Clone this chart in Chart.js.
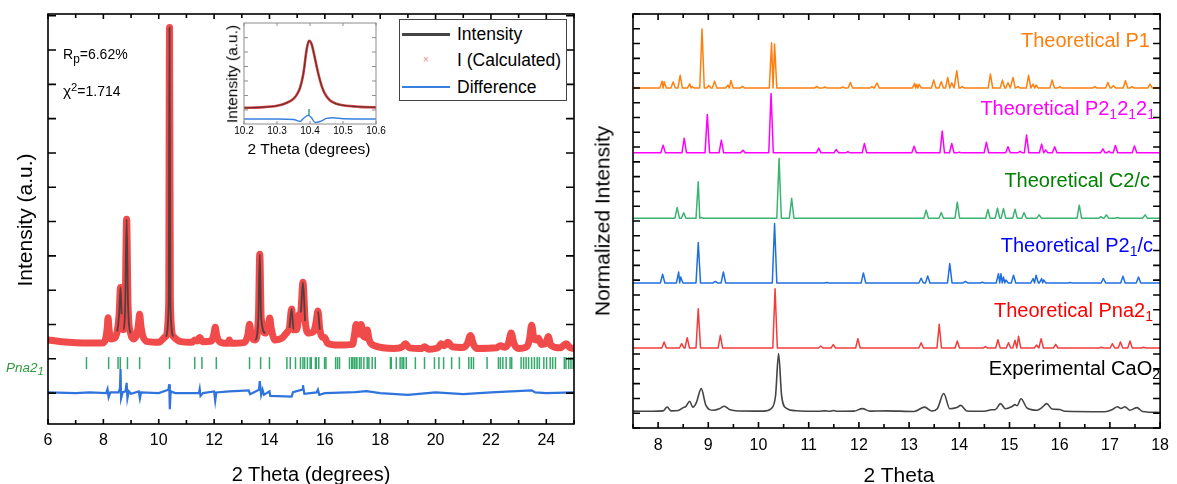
<!DOCTYPE html>
<html>
<head>
<meta charset="utf-8">
<script src="https://cdn.jsdelivr.net/npm/chart.js@4.4.1/dist/chart.umd.min.js"></script>
<style>
body{margin:0;background:#fff;}
#wrap{position:relative;width:1177px;height:484px;overflow:hidden;}
canvas{position:absolute;}
.t{position:absolute;white-space:nowrap;line-height:1;font-family:Arial,"Liberation Sans",sans-serif;color:#000;}
.sb{font-size:0.7em;position:relative;top:0.3em;}
.sb2{font-size:0.85em;position:relative;top:0.3em;}
.sp{font-size:0.8em;position:relative;top:-0.45em;}
.lg{position:absolute;}
</style>
</head>
<body>
<div id="wrap">
<canvas id="left" width="590" height="484" style="left:0;top:0"></canvas>
<canvas id="right" width="587" height="484" style="left:590px;top:0"></canvas>
<canvas id="inset" width="190" height="150" style="left:200px;top:10px"></canvas>

<div class="t" style="left:24px;top:220px;font-size:21px;transform:translate(-50%,-50%) rotate(-90deg)">Intensity (a.u.)</div>
<div class="t" style="left:311px;top:464px;font-size:20px;transform:translateX(-50%)">2 Theta (degrees)</div>
<div class="t" style="left:63px;top:47px;font-size:14px">R<span class="sb2">p</span>=6.62%</div>
<div class="t" style="left:63px;top:83px;font-size:14px"><span style="font-size:1.1em">χ</span><span class="sp">2</span>=1.714</div>
<div class="t" style="left:6px;top:361px;font-size:13.5px;font-style:italic;color:#2e9a3e">Pna2<span class="sb2">1</span></div>

<div class="t" style="left:232px;top:74px;font-size:15.5px;transform:translate(-50%,-50%) rotate(-90deg)">Intensity (a.u.)</div>
<div class="t" style="left:309px;top:141px;font-size:15.5px;transform:translateX(-50%)">2 Theta (degrees)</div>

<div class="lg" style="left:399px;top:19px;width:166px;height:80px;border:1.2px solid #444;background:#fff"></div>
<div class="lg" style="left:402px;top:33px;width:48px;height:3px;background:#444"></div>
<div class="t" style="left:423px;top:55px;font-size:10px;color:#f08a8a">×</div>
<div class="lg" style="left:402px;top:86px;width:48px;height:2px;background:#3a80e0"></div>
<div class="t" style="left:457px;top:26px;font-size:17.5px">Intensity</div>
<div class="t" style="left:457px;top:52px;font-size:17.5px">I (Calculated)</div>
<div class="t" style="left:457px;top:79px;font-size:17.5px">Difference</div>

<div class="t" style="left:602px;top:221px;font-size:21px;transform:translate(-50%,-50%) rotate(-90deg)">Normalized Intensity</div>
<div class="t" style="left:899px;top:464px;font-size:21px;transform:translateX(-50%)">2 Theta</div>
<div class="t" style="right:27px;top:30px;font-size:20px;color:#ff7f0e">Theoretical P1</div>
<div class="t" style="right:22px;top:98px;font-size:20px;color:#ff00ff">Theoretical P2<span class="sb">1</span>2<span class="sb">1</span>2<span class="sb">1</span></div>
<div class="t" style="right:27px;top:170px;font-size:20px;color:#008000">Theoretical C2/c</div>
<div class="t" style="right:24px;top:235px;font-size:20px;color:#0000ff">Theoretical P2<span class="sb">1</span>/c</div>
<div class="t" style="right:24px;top:300px;font-size:20px;color:#ff0000">Theoretical Pna2<span class="sb">1</span></div>
<div class="t" style="right:17px;top:358px;font-size:20px;color:#000">Experimental CaO<span class="sb">2</span></div>
</div>

<script>
// ---- left panel: refinement (x = 2 theta, y = intensity in tick units)
const calcPts = [[6.0,1.55],[6.5,1.5],[7.0,1.47],[7.5,1.46],[7.95,1.46],
[8.08,1.58],[8.14,1.9],[8.17,2.2],[8.2,1.9],[8.27,1.58],
[8.4,1.6],[8.5,1.8],[8.57,2.3],[8.62,3.08],[8.66,2.3],[8.72,1.85],
[8.79,2.6],[8.84,5.07],[8.89,2.6],[8.98,1.75],
[9.1,1.58],[9.22,1.75],[9.28,2.1],[9.31,2.3],[9.35,2.0],[9.42,1.68],[9.6,1.5],
[10.0,1.48],[10.25,1.65],[10.36,2.6],[10.39,10.66],[10.42,2.6],[10.53,1.65],[10.8,1.5],
[11.2,1.48],[11.3,1.55],[11.38,1.52],[11.48,1.62],[11.58,1.5],
[11.9,1.52],[12.0,1.75],[12.04,1.92],[12.09,1.7],[12.2,1.5],
[12.5,1.45],[12.55,1.55],[12.6,1.45],
[13.1,1.48],[13.22,1.7],[13.28,2.01],[13.34,1.7],[13.48,1.55],
[13.6,2.2],[13.65,4.05],[13.7,2.2],[13.85,1.75],
[13.96,2.0],[14.01,2.19],[14.06,1.9],[14.2,1.55],
[14.45,1.6],[14.58,1.72],[14.64,1.78],[14.72,1.9],[14.8,2.45],[14.87,1.85],
[14.98,1.85],[15.08,2.3],[15.13,2.35],[15.21,3.23],[15.29,2.1],[15.42,1.75],
[15.6,1.8],[15.68,2.05],[15.75,2.39],[15.82,1.85],[15.92,1.62],[15.99,1.62],[16.1,1.45],
[16.5,1.4],[17.0,1.42],[17.07,1.7],[17.13,2.0],[17.22,1.72],[17.31,2.0],[17.4,1.65],[17.47,1.62],[17.53,1.84],[17.6,1.55],[17.8,1.38],
[18.5,1.3],[18.8,1.35],[18.91,1.44],[19.05,1.32],[19.5,1.3],[19.6,1.35],[19.75,1.28],
[20.1,1.33],[20.2,1.44],[20.32,1.38],[20.44,1.48],[20.6,1.35],[21.0,1.33],
[21.15,1.45],[21.26,1.68],[21.37,1.42],[21.5,1.3],[22.2,1.32],[22.34,1.38],[22.5,1.34],
[22.63,1.45],[22.73,1.75],[22.83,1.45],[23.0,1.3],[23.3,1.36],[23.4,1.6],[23.47,1.98],[23.55,1.6],[23.65,1.55],[23.72,1.6],[23.82,1.42],
[23.98,1.45],[24.07,1.65],[24.16,1.4],[24.5,1.32],[24.72,1.44],[24.85,1.33],[25.0,1.3]];

const diffPts = [[6.0,0.02],[7.0,0.0],[7.5,0.02],[8.1,0.0],[8.15,0.12],[8.19,-0.12],[8.25,0.02],[8.55,0.02],
[8.6,0.15],[8.62,0.7],[8.64,-0.15],[8.7,0.03],[8.8,0.05],[8.84,0.3],[8.87,-0.15],[8.92,0.05],[9.0,-0.02],
[9.28,0.05],[9.32,-0.15],[9.36,0.02],[10.0,0.0],[10.35,0.1],[10.38,0.26],[10.40,-0.47],[10.43,0.05],[10.6,0.0],
[11.45,0.0],[11.48,0.12],[11.51,-0.08],[11.6,0],[12.0,0.05],[12.04,-0.22],[12.08,0.02],[12.55,0.05],
[13.25,0.08],[13.3,-0.03],[13.62,0.1],[13.65,0.35],[13.7,-0.05],[13.75,0.1],[13.8,-0.05],[14.0,0.05],[14.03,-0.08],
[14.8,-0.1],[14.85,0.03],[15.18,0.1],[15.21,0.23],[15.26,-0.02],[15.7,0.02],[15.75,0.1],[15.8,-0.05],[16.0,0],
[17.1,0.03],[17.5,0.06],[18.0,0],[19.0,-0.05],[20.0,0.02],[21.0,-0.03],[22.0,0.02],[23.47,0.08],[23.6,0.02],[24.0,0.0],[25.0,0.02]];

// Pna2_1 reflection positions
const reflections = [7.39,8.19,8.53,8.61,8.87,9.31,10.39,11.30,11.56,12.08,13.28,13.68,14.00,14.63,14.75,14.94,
15.12,15.21,15.27,15.37,15.47,15.51,15.66,15.69,15.78,15.99,16.04,16.39,16.46,16.53,16.89,16.97,17.01,17.07,17.13,17.16,
17.25,17.31,17.41,17.53,17.59,17.71,17.82,18.37,18.40,18.58,18.72,18.79,18.85,18.94,19.27,19.60,19.96,20.12,20.29,
20.58,20.86,21.20,21.29,21.37,21.86,22.27,22.34,22.43,22.55,22.69,22.75,23.09,23.18,23.27,23.36,23.47,23.57,23.67,
23.75,23.91,24.01,24.14,24.23,24.33,24.65,24.71,24.81,24.89,24.97];
const reflY = 0.875;

const leftXLabels = [6,8,10,12,14,16,18,20,22,24];
const leftXMinor = [7,9,11,13,15,17,19,21,23,25];
const leftYTicks = [0,1,2,3,4,5,6,7,8,9,10,11];

// ---- inset (zoom on 10.2-10.6)
const insetPts = [[10.2,1.6],[10.25,1.65],[10.3,1.8],[10.33,2.1],[10.35,2.5],[10.36,2.9],[10.37,3.6],[10.38,5.0],
[10.39,7.4],[10.397,8.25],[10.405,7.9],[10.415,6.5],[10.425,5.0],[10.435,3.8],[10.445,3.0],[10.46,2.35],[10.48,2.0],
[10.5,1.85],[10.55,1.7],[10.6,1.65]];
const insetDiff = [[10.2,0.5],[10.3,0.5],[10.35,0.45],[10.37,0.25],[10.38,0.55],[10.395,0.85],[10.405,0.6],[10.415,0.15],
[10.43,0.25],[10.45,0.55],[10.47,0.62],[10.5,0.52],[10.6,0.5]];
const insetRefl = [10.397];
const insetXLabels = [10.2,10.3,10.4,10.5,10.6];
const insetYTicks = [1.39,2.82,4.26,5.69,7.13,8.55];

// ---- right panel: simulated patterns, peak positions / heights, stacked
const p1Pos = [8.08,8.12,8.30,8.44,8.63,8.68,8.875,9.01,9.125,9.39,9.45,9.68,10.26,10.32,11.16,11.32,11.68,11.83,12.26,12.36,
13.11,13.15,13.2,13.49,13.64,13.77,13.85,13.95,14.06,14.62,14.86,14.97,15.07,15.17,15.38,15.47,15.53,15.85,16.0,16.7,16.96,17.07,17.31,17.44,17.8];
const p1Hgt = [0.47,0.43,0.41,0.86,0.29,0.1,4.0,0.18,0.47,0.2,0.52,0.11,3.07,2.98,0.11,0.07,0.07,0.38,0.1,0.34,
0.32,0.25,0.25,0.54,0.43,0.72,0.36,1.17,0.1,0.95,0.54,0.36,0.72,0.1,0.86,0.27,0.2,0.54,0.1,0.1,0.38,0.16,0.5,0.1,0.27];
const p212121Pos = [8.10,8.52,8.98,9.26,9.69,10.25,11.2,11.55,11.78,12.11,13.10,13.66,13.85,14.0,14.54,14.97,15.21,15.34,15.64,15.72,15.9,16.86,16.98,17.11,17.49];
const p212121Hgt = [0.52,0.99,2.6,0.86,0.18,4.02,0.32,0.23,0.07,0.63,0.45,1.47,0.63,0.05,0.72,0.41,0.1,1.2,0.59,0.2,0.41,0.27,0.1,0.5,0.47];
const c2cPos = [8.38,8.51,8.80,8.86,10.41,10.66,13.34,13.64,13.96,14.57,14.76,14.88,15.11,15.29,15.59,16.39,16.82,16.93,17.15,17.70];
const c2cHgt = [0.72,0.36,2.46,0.05,4.04,1.35,0.54,0.38,1.08,0.59,0.68,0.65,0.61,0.38,0.23,0.88,0.1,0.23,0.05,0.23];
const p21cPos = [8.09,8.41,8.45,8.80,9.14,9.30,10.32,11.36,12.09,13.24,13.37,13.81,14.12,14.46,14.78,14.83,14.88,14.93,15.08,15.47,15.53,15.64,15.68,16.21,16.87,17.26,17.57];
const p21cHgt = [0.59,0.74,0.4,2.73,0.1,0.74,4.02,0.03,0.68,0.32,0.47,1.31,0.1,0.05,0.63,0.63,0.4,0.2,0.52,0.3,0.52,0.3,0.2,0.03,0.3,0.45,0.4];
const pna21Pos = [8.12,8.47,8.58,8.80,9.24,10.33,11.24,11.49,11.98,13.24,13.60,13.96,14.52,14.77,14.98,15.11,15.18,15.54,15.63,15.92,16.83,17.05,17.21,17.40,17.67];
const pna21Hgt = [0.41,0.29,0.7,2.66,0.86,4.0,0.14,0.23,0.63,0.36,1.6,0.47,0.1,0.56,0.36,0.52,0.79,0.2,0.63,0.25,0.05,0.29,0.41,0.47,0.05];
const expPts = [[7.5,1.14],[7.9,1.13],[8.1,1.16],[8.18,1.42],[8.26,1.16],[8.4,1.18],[8.5,1.38],[8.55,1.45],[8.63,1.81],[8.69,1.4],
[8.76,1.7],[8.86,2.66],[8.95,1.55],[9.1,1.2],[9.22,1.3],[9.32,1.47],[9.42,1.25],[9.6,1.15],[10.1,1.14],[10.25,1.3],[10.34,2.2],
[10.40,5.03],[10.46,2.2],[10.55,1.35],[10.75,1.17],[11.2,1.13],[11.32,1.16],[11.42,1.13],[11.49,1.18],[11.58,1.13],[11.9,1.14],
[12.07,1.31],[12.22,1.14],[12.54,1.16],[13.1,1.12],[13.31,1.41],[13.45,1.15],[13.56,1.3],[13.69,2.33],[13.81,1.3],[13.95,1.38],
[14.03,1.53],[14.15,1.15],[14.5,1.13],[14.64,1.23],[14.72,1.25],[14.82,1.65],[14.92,1.3],[15.05,1.45],[15.11,1.58],[15.15,1.5],
[15.23,1.98],[15.35,1.35],[15.55,1.2],[15.65,1.4],[15.74,1.65],[15.85,1.28],[16.0,1.25],[16.1,1.13],[16.9,1.1],[17.05,1.25],
[17.15,1.44],[17.22,1.32],[17.30,1.44],[17.4,1.2],[17.54,1.38],[17.65,1.12],[18.0,1.05]];
const stackBase = [5.41,9.81,14.19,18.61,22.99]; // Pna21, P21/c, C2/c, P212121, P1

const rightXLabels = [8,9,10,11,12,13,14,15,16,17,18];
const rightXMinor = [7.5,8.5,9.5,10.5,11.5,12.5,13.5,14.5,15.5,16.5,17.5];
const rightYTicks = Array.from({length:29},(_,i)=>i);

// ------------------------------------------------------------
Chart.defaults.font.family = 'Arial, "Liberation Sans", sans-serif';
Chart.defaults.color = '#000';

const xy = a => a.map(p => ({x:p[0], y:p[1]}));
const steep = c => Math.abs(c.p1.parsed.y - c.p0.parsed.y) > 0.45;

function spikes(pos, hgt, base){
  const w = 0.045, pts = [{x:7.5, y:base}];
  pos.forEach((p,i) => {
    const lo = i>0 ? Math.max(p-w,(p+pos[i-1])/2) : p-w;
    const hi = i<pos.length-1 ? Math.min(p+w,(p+pos[i+1])/2) : p+w;
    pts.push({x:lo,y:base},{x:p,y:base+hgt[i]},{x:hi,y:base});
  });
  pts.push({x:18, y:base});
  return pts;
}

// inward ticks + box frame
const frame = {
  id:'frame',
  afterDatasetsDraw(chart, args, o){
    const {ctx, chartArea:a} = chart, x = chart.scales.x, y = chart.scales.y;
    ctx.save();
    ctx.strokeStyle = o.color; ctx.lineWidth = o.lw;
    ctx.beginPath();
    const vt = (vals,len) => vals.forEach(v => {
      const px = x.getPixelForValue(v);
      ctx.moveTo(px,a.bottom); ctx.lineTo(px,a.bottom-len);
      ctx.moveTo(px,a.top); ctx.lineTo(px,a.top+len);
    });
    vt(o.xMajor,o.xLen); vt(o.xMinor,o.xMinorLen);
    o.yTicks.forEach(v => {
      const py = y.getPixelForValue(v);
      ctx.moveTo(a.left,py); ctx.lineTo(a.left+o.yLen,py);
      ctx.moveTo(a.right,py); ctx.lineTo(a.right-o.yLen,py);
    });
    ctx.stroke();
    ctx.strokeRect(a.left,a.top,a.right-a.left,a.bottom-a.top);
    ctx.restore();
  }
};

function xAxis(min,max,labels,size,pad,h,fmt){
  return {type:'linear',min,max,
    grid:{display:false,drawTicks:false},border:{display:false},
    afterBuildTicks: s => { s.ticks = labels.map(v => ({value:v})); },
    afterFit: s => { s.height = h; },
    ticks:{font:{size},padding:pad,maxRotation:0,autoSkip:false,callback:fmt || (v => v)}};
}

new Chart(document.getElementById('left'), {
  type:'line',
  data:{datasets:[
    {label:'Intensity', data:xy(calcPts), borderColor:'transparent', borderWidth:1.8, pointRadius:0,
     cubicInterpolationMode:'monotone', order:0,
     segment:{borderColor: c => steep(c) ? 'rgba(60,60,60,0.85)' : 'transparent'}},
    {label:'I (Calculated)', data:xy(calcPts), borderColor:'rgba(240,64,64,0.95)', borderWidth:7,
     borderJoinStyle:'round', borderCapStyle:'round', pointRadius:0, cubicInterpolationMode:'monotone', order:1},
    {label:'Difference', data:xy(diffPts), borderColor:'#2f74dc', borderWidth:2.2, pointRadius:0, order:2},
    {label:'Pna21', data:reflections.map(v => ({x:v, y:reflY})), showLine:false, pointStyle:'line', rotation:90,
     pointRadius:6, pointBorderWidth:1.5, pointBorderColor:'#35a86b', borderColor:'#35a86b', order:3}
  ]},
  options:{responsive:false, animation:false,
    layout:{padding:{left:48,top:14,right:16,bottom:0}},
    plugins:{legend:{display:false}, tooltip:{enabled:false},
      frame:{xMajor:leftXLabels, xMinor:leftXMinor, yTicks:leftYTicks, xLen:5, xMinorLen:4, yLen:8, color:'#000', lw:1.6}},
    scales:{x:xAxis(6,25,leftXLabels,16,7,60), y:{display:false,min:-0.9,max:11.05}}},
  plugins:[frame]
});

new Chart(document.getElementById('inset'), {
  type:'line',
  data:{datasets:[
    {label:'Intensity', data:xy(insetPts), borderColor:'rgba(60,30,30,0.75)', borderWidth:1, pointRadius:0, cubicInterpolationMode:'monotone', order:0},
    {label:'I (Calculated)', data:xy(insetPts), borderColor:'#d24646', borderWidth:2.6, pointRadius:0, cubicInterpolationMode:'monotone', order:1},
    {label:'Difference', data:xy(insetDiff), borderColor:'#3a80e0', borderWidth:1.4, pointRadius:0, cubicInterpolationMode:'monotone', order:2},
    {label:'Pna21', data:insetRefl.map(v => ({x:v, y:1.15})), showLine:false, pointStyle:'line', rotation:90,
     pointRadius:3.5, pointBorderWidth:1.5, pointBorderColor:'#35a86b', order:3}
  ]},
  options:{responsive:false, animation:false,
    layout:{padding:{left:44,top:13,right:14,bottom:0}},
    plugins:{legend:{display:false}, tooltip:{enabled:false},
      frame:{xMajor:insetXLabels, xMinor:[], yTicks:insetYTicks, xLen:3, xMinorLen:0, yLen:4, color:'#8c8c8c', lw:1}},
    scales:{x:xAxis(10.2,10.6,insetXLabels,10,1,36,v => v.toFixed(1)), y:{display:false,min:0,max:10}}},
  plugins:[frame]
});

const specs = [
  {label:'Experimental CaO2', data:xy(expPts), color:'#444444', w:1.6, smooth:true},
  {label:'Theoretical Pna21', data:spikes(pna21Pos,pna21Hgt,stackBase[0]), color:'#f23c3c', w:1.5},
  {label:'Theoretical P21/c', data:spikes(p21cPos,p21cHgt,stackBase[1]), color:'#1f6fe0', w:1.5},
  {label:'Theoretical C2/c', data:spikes(c2cPos,c2cHgt,stackBase[2]), color:'#3cb371', w:1.5},
  {label:'Theoretical P212121', data:spikes(p212121Pos,p212121Hgt,stackBase[3]), color:'#ff00ff', w:1.5},
  {label:'Theoretical P1', data:spikes(p1Pos,p1Hgt,stackBase[4]), color:'#ff7f0e', w:1.5}
];

new Chart(document.getElementById('right'), {
  type:'line',
  data:{datasets:specs.map(s => ({label:s.label, data:s.data, borderColor:s.color, borderWidth:s.w, pointRadius:0,
    borderJoinStyle:'round', cubicInterpolationMode: s.smooth ? 'monotone' : 'default', tension:0}))},
  options:{responsive:false, animation:false,
    layout:{padding:{left:43,top:14,right:11,bottom:0}},
    plugins:{legend:{display:false}, tooltip:{enabled:false},
      frame:{xMajor:rightXLabels, xMinor:rightXMinor, yTicks:rightYTicks, xLen:6, xMinorLen:4, yLen:7, color:'#000', lw:1.6}},
    scales:{x:xAxis(7.5,18,rightXLabels,16,8,56), y:{display:false,min:0,max:28}}},
  plugins:[frame]
});
</script>
</body>
</html>
